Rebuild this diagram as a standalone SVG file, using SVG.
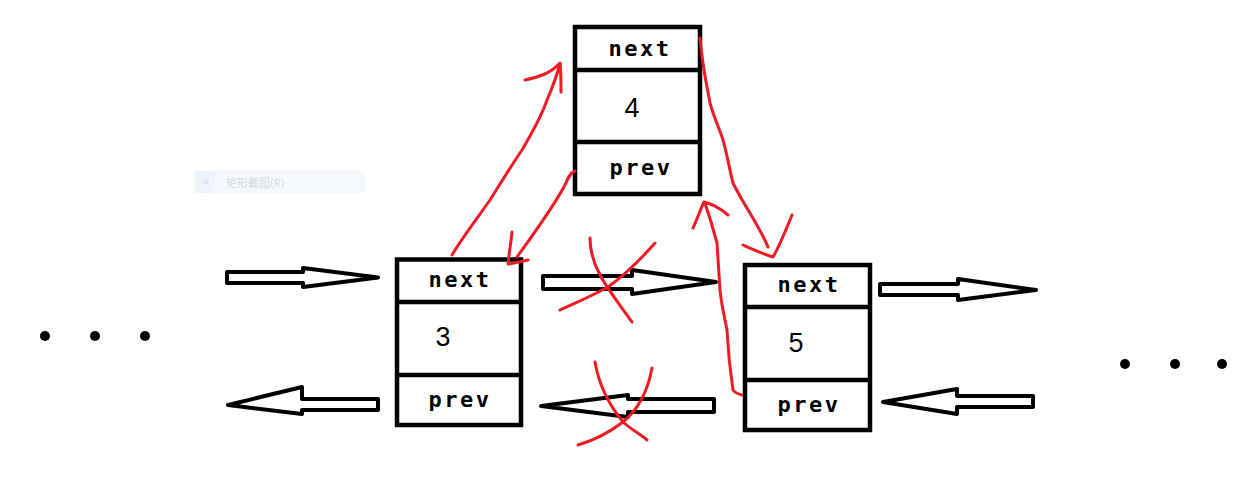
<svg xmlns="http://www.w3.org/2000/svg" width="1246" height="480" viewBox="0 0 1246 480">
<style>
.box{fill:#fff;stroke:#000;stroke-width:4.5}
.div{stroke:#000;stroke-width:4.5}
.lbl{font-family:"DejaVu Sans Mono",monospace;font-weight:bold;font-size:22px;letter-spacing:2.5px;text-anchor:middle;fill:#000}
.num{font-family:"Liberation Sans",sans-serif;font-size:27px;text-anchor:middle;fill:#000}
.harrow{fill:#fff;stroke:#000;stroke-width:4;stroke-linejoin:round}
.red{fill:none;stroke:#ed1c24;stroke-width:3;stroke-linecap:round;stroke-linejoin:round}
.dot{fill:#000}
</style>
<rect x="195" y="171" width="170" height="22" fill="#f5f9fd"/>
<rect x="195" y="171" width="20" height="22" fill="#eef4fb"/>
<circle cx="206" cy="182" r="3" fill="#e4e8ec"/>
<text x="226" y="187" font-family="'Noto Sans CJK SC',sans-serif" font-size="11" fill="#d9d9d9">矩形截图(R)</text>
<g id="dots-left"><circle class="dot" cx="45" cy="336" r="5"/><circle class="dot" cx="95" cy="336" r="5"/><circle class="dot" cx="145" cy="336" r="5"/></g>
<g id="dots-right"><circle class="dot" cx="1125" cy="364" r="5"/><circle class="dot" cx="1175" cy="364" r="5"/><circle class="dot" cx="1222" cy="364" r="5"/></g>
<g id="node4">
<rect class="box" x="575" y="27" width="125" height="167"/>
<line class="div" x1="575" y1="70" x2="702" y2="70"/>
<line class="div" x1="575" y1="142" x2="702" y2="142"/>
<text class="lbl" x="640" y="56">next</text>
<text class="num" x="632" y="117">4</text>
<text class="lbl" x="641" y="175">prev</text>
</g>
<g id="node3">
<rect class="box" x="397" y="259.5" width="124" height="165.5"/>
<line class="div" x1="397" y1="302" x2="523" y2="302"/>
<line class="div" x1="397" y1="375" x2="523" y2="375"/>
<text class="lbl" x="460" y="287">next</text>
<text class="num" x="443" y="346">3</text>
<text class="lbl" x="460" y="407">prev</text>
</g>
<g id="node5">
<rect class="box" x="745" y="265" width="125" height="165"/>
<line class="div" x1="745" y1="307" x2="872" y2="307"/>
<line class="div" x1="745" y1="380" x2="872" y2="380"/>
<text class="lbl" x="809" y="292">next</text>
<text class="num" x="796" y="352">5</text>
<text class="lbl" x="809" y="412">prev</text>
</g>
<g id="connectors">
<polygon class="harrow" points="227,272 303,272 303,268 378,277.5 303,287 303,283 227,283"/>
<polygon class="harrow" points="378,399 302,399 302,387 228,405 302,414 302,410 378,410"/>
<polygon class="harrow" points="543,276 632,276 632,270 716,282 632,294 632,289 543,289"/>
<polygon class="harrow" points="714,399 628,399 628,395 541,406 628,417 628,412 714,412"/>
<polygon class="harrow" points="880,284 958,284 958,279 1036,290 958,300 958,295 880,295"/>
<polygon class="harrow" points="1033,396 957,396 957,389 883,402 957,414 957,407 1033,407"/>
<path class="red" d="M452,255 C462,238 476,220 490,200 C505,176 515,160 522,150 C532,133 542,115 547,100 C553,86 557,75 560,64"/>
<path class="red" d="M525,80 C538,77 550,74 560,63 C561,72 561,82 561,92"/>
<path class="red" d="M575,171 C570,173 568,178 566,183 C555,205 535,232 517,257"/>
<path class="red" d="M512,232 C511,243 509,253 508,264 C515,263 522,261 528,260"/>
<path class="red" d="M700,38 C701,48 702,56 703,63 C705,78 708,92 710,103 C714,118 720,130 723,140 C728,158 730,172 733,183 C740,197 745,205 750,213 C757,225 764,237 768,247"/>
<path class="red" d="M743,245 C752,249 763,254 773,257 C780,245 786,230 792,215"/>
<path class="red" d="M742,395 C738,394 735,393 733,390 C730,370 728,350 727,330 C724,315 721,302 720,290 C719,275 718,258 717,243 C713,228 709,215 705,203"/>
<path class="red" d="M693,228 C697,220 700,210 704,202 C712,204 720,208 728,215"/>
<path class="red" d="M590,238 C590,250 593,262 600,275 C608,290 620,305 632,322"/>
<path class="red" d="M655,243 C640,260 625,275 608,287 C590,297 575,303 560,310"/>
<path class="red" d="M595,362 C598,380 605,400 623,422 C632,430 640,434 647,440"/>
<path class="red" d="M652,368 C648,390 640,408 623,422 C610,432 595,440 578,445"/>
</g>
</svg>
